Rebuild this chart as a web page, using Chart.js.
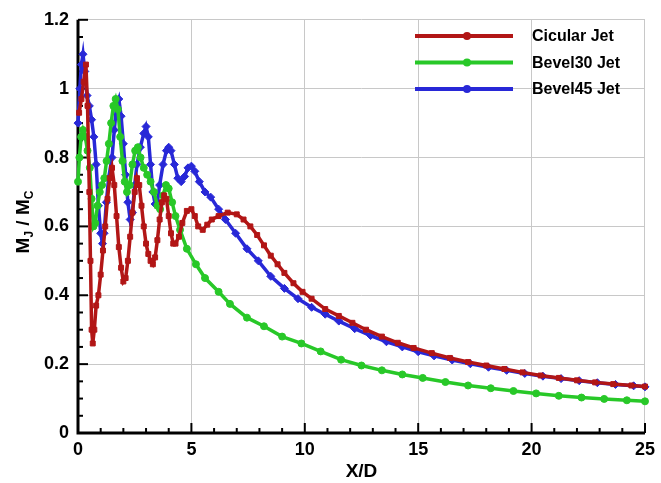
<!DOCTYPE html>
<html lang="en">
<head>
    <meta charset="UTF-8">
    <title>Mach number decay</title>
    <script src="https://cdn.jsdelivr.net/npm/chart.js"></script>
    <style>
        body { margin: 0; background: #ffffff; }
        .chart-box { position: relative; width: 661px; height: 483px; }
    </style>
</head>
<body>
    <div class="chart-box">
        <canvas id="jetChart"></canvas>
    </div>

    <script>
        // Series
        const seriesNames = ["Cicular Jet", "Bevel30 Jet", "Bevel45 Jet"];

        const xCircular = [0.05,0.15,0.25,0.35,0.42,0.5,0.55,0.6,0.65,0.72,0.8,0.9,1.0,1.1,1.2,1.3,1.4,1.5,1.6,1.7,1.8,1.9,2.0,2.1,2.2,2.3,2.4,2.5,2.6,2.7,2.8,2.9,3.0,3.1,3.2,3.3,3.4,3.5,3.6,3.7,3.8,3.9,4.0,4.1,4.2,4.3,4.45,4.6,4.8,5.0,5.15,5.3,5.5,5.7,5.9,6.2,6.6,7.0,7.3,7.6,7.9,8.2,8.5,8.8,9.1,9.5,9.9,10.3,10.9,11.5,12.1,12.7,13.4,14.1,14.8,15.6,16.4,17.2,18.0,18.8,19.6,20.4,21.2,22.0,22.8,23.6,24.4,25];
        const yCircular = [0.93,0.97,1.02,1.07,0.95,0.7,0.5,0.3,0.26,0.3,0.37,0.4,0.46,0.53,0.6,0.68,0.74,0.77,0.72,0.63,0.54,0.48,0.44,0.45,0.5,0.57,0.64,0.7,0.74,0.72,0.66,0.6,0.55,0.52,0.5,0.49,0.51,0.56,0.62,0.67,0.69,0.68,0.63,0.58,0.55,0.55,0.57,0.61,0.645,0.65,0.63,0.6,0.59,0.605,0.62,0.63,0.64,0.635,0.62,0.6,0.575,0.545,0.515,0.49,0.465,0.435,0.41,0.39,0.36,0.34,0.32,0.3,0.28,0.262,0.247,0.232,0.218,0.206,0.196,0.186,0.176,0.167,0.16,0.153,0.147,0.142,0.138,0.135];

        const xBevel30 = [0.0,0.06,0.14,0.22,0.32,0.42,0.52,0.6,0.68,0.76,0.86,0.96,1.06,1.16,1.26,1.36,1.46,1.56,1.66,1.76,1.86,1.96,2.06,2.16,2.28,2.4,2.52,2.64,2.76,2.9,3.05,3.2,3.35,3.5,3.62,3.75,3.88,4.0,4.15,4.3,4.5,4.8,5.2,5.6,6.2,6.7,7.45,8.2,9.0,9.85,10.7,11.6,12.5,13.4,14.3,15.2,16.2,17.2,18.2,19.2,20.2,21.2,22.2,23.2,24.2,25];
        const yBevel30 = [0.73,0.8,0.86,0.88,0.86,0.82,0.77,0.68,0.6,0.61,0.66,0.7,0.72,0.74,0.79,0.84,0.9,0.95,0.97,0.94,0.86,0.79,0.73,0.7,0.72,0.78,0.82,0.83,0.8,0.77,0.75,0.73,0.7,0.66,0.65,0.69,0.72,0.71,0.67,0.63,0.59,0.535,0.49,0.45,0.41,0.375,0.335,0.31,0.28,0.26,0.237,0.213,0.196,0.182,0.17,0.16,0.148,0.138,0.13,0.122,0.115,0.108,0.103,0.099,0.095,0.092];

        const xBevel45 = [0.0,0.08,0.15,0.22,0.3,0.4,0.5,0.6,0.7,0.8,0.9,1.0,1.08,1.15,1.25,1.35,1.5,1.6,1.7,1.8,1.9,2.0,2.1,2.2,2.3,2.4,2.5,2.6,2.75,2.9,3.0,3.1,3.2,3.3,3.4,3.5,3.6,3.75,3.9,4.0,4.1,4.25,4.4,4.55,4.7,4.85,5.0,5.15,5.35,5.6,5.85,6.2,6.5,6.95,7.45,7.95,8.5,9.1,9.7,10.3,10.9,11.5,12.2,12.9,13.6,14.3,15.0,15.7,16.5,17.3,18.1,18.9,19.7,20.5,21.3,22.1,22.9,23.7,24.5,25];
        const yBevel45 = [0.9,1.0,1.07,1.1,1.05,0.98,0.95,0.91,0.86,0.78,0.66,0.58,0.55,0.58,0.67,0.74,0.8,0.88,0.95,0.97,0.92,0.84,0.75,0.67,0.62,0.64,0.72,0.78,0.83,0.87,0.89,0.86,0.78,0.7,0.665,0.67,0.72,0.78,0.82,0.83,0.82,0.78,0.74,0.73,0.745,0.77,0.775,0.76,0.73,0.7,0.685,0.65,0.62,0.58,0.535,0.5,0.455,0.42,0.39,0.365,0.345,0.325,0.303,0.283,0.265,0.25,0.236,0.224,0.212,0.201,0.191,0.182,0.173,0.165,0.158,0.152,0.146,0.141,0.137,0.134];

        const xTicks = [0, 5, 10, 15, 20, 25];
        const yTicks = [0, 0.2, 0.4, 0.6, 0.8, 1, 1.2];

        const toPoints = (xs, ys) => xs.map((x, i) => ({ x: x, y: ys[i] }));

        const FONT = '"Liberation Sans", Arial, sans-serif';
        const colors = ['rgb(178, 22, 22)', 'rgb(40, 200, 40)', 'rgb(40, 40, 215)'];
        const markers = ['rect', 'circle', 'rectRot'];

        // axis lines with inward major/minor ticks
        const axisPlugin = {
            id: 'axisTicks',
            beforeDatasetsDraw(chart) {
                const { ctx, chartArea: a, scales: { x, y } } = chart;
                ctx.save();
                ctx.strokeStyle = '#000';
                ctx.lineWidth = 2;
                for (let v = 0; v <= 25; v++) {
                    const px = x.getPixelForValue(v);
                    const len = v % 5 === 0 ? 10 : 5;
                    ctx.beginPath(); ctx.moveTo(px, a.bottom); ctx.lineTo(px, a.bottom - len); ctx.stroke();
                }
                for (let i = 0; i <= 24; i++) {
                    const py = y.getPixelForValue(i * 0.05);
                    const len = i % 4 === 0 ? 10 : 5;
                    ctx.beginPath(); ctx.moveTo(a.left, py); ctx.lineTo(a.left + len, py); ctx.stroke();
                }
                ctx.lineWidth = 3;
                ctx.beginPath();
                ctx.moveTo(a.left, a.top);
                ctx.lineTo(a.left, a.bottom);
                ctx.lineTo(a.right, a.bottom);
                ctx.stroke();
                ctx.restore();
            }
        };

        // y title with subscripts
        const yTitlePlugin = {
            id: 'yTitle',
            afterDraw(chart) {
                const ctx = chart.ctx;
                const parts = [
                    { t: 'M', sub: false }, { t: 'J', sub: true },
                    { t: ' / M', sub: false }, { t: 'C', sub: true }
                ];
                const big = 'bold 19px ' + FONT, small = 'bold 12px ' + FONT;
                ctx.save();
                let w = 0;
                parts.forEach(p => { ctx.font = p.sub ? small : big; w += ctx.measureText(p.t).width; });
                ctx.translate(22, 222);
                ctx.rotate(-Math.PI / 2);
                ctx.fillStyle = '#000';
                ctx.textBaseline = 'alphabetic';
                let cx = -w / 2;
                parts.forEach(p => {
                    ctx.font = p.sub ? small : big;
                    ctx.fillText(p.t, cx, p.sub ? 11 : 7);
                    cx += ctx.measureText(p.t).width;
                });
                ctx.restore();
            }
        };

        // legend inside the plot, line with marker in the middle
        const legendPlugin = {
            id: 'inlineLegend',
            afterDatasetsDraw(chart) {
                const ctx = chart.ctx;
                ctx.save();
                chart.data.datasets.forEach((ds, i) => {
                    const ly = 36 + i * 26.5;
                    ctx.strokeStyle = ds.borderColor;
                    ctx.lineWidth = 4;
                    ctx.beginPath(); ctx.moveTo(415, ly); ctx.lineTo(513, ly); ctx.stroke();
                    ctx.fillStyle = ds.borderColor;
                    ctx.beginPath(); ctx.arc(467, ly, 4, 0, Math.PI * 2); ctx.fill();
                    ctx.fillStyle = '#000';
                    ctx.font = 'bold 16px ' + FONT;
                    ctx.textBaseline = 'middle';
                    ctx.fillText(ds.label, 532, ly + 1);
                });
                ctx.restore();
            }
        };

        const datasets = [
            toPoints(xCircular, yCircular),
            toPoints(xBevel30, yBevel30),
            toPoints(xBevel45, yBevel45)
        ].map((pts, i) => ({
            label: seriesNames[i],
            data: pts,
            borderColor: colors[i],
            backgroundColor: colors[i],
            borderWidth: 3.5,
            pointStyle: markers[i],
            pointRadius: i === 2 ? 4 : 3.5,
            pointBorderWidth: 1,
            tension: 0,
            clip: false
        }));

        new Chart(document.getElementById('jetChart'), {
            type: 'line',
            data: { datasets: datasets },
            plugins: [axisPlugin, yTitlePlugin, legendPlugin],
            options: {
                responsive: true,
                maintainAspectRatio: false,
                animation: false,
                layout: { padding: { top: 16, right: 11, left: 0, bottom: 0 } },
                scales: {
                    x: {
                        type: 'linear',
                        min: 0, max: 25,
                        afterFit: s => { s.height = 50; },
                        afterBuildTicks: s => { s.ticks = xTicks.map(v => ({ value: v })); },
                        grid: { color: '#c8c8c8', drawTicks: false },
                        border: { display: false },
                        ticks: { color: '#000', padding: 6, font: { family: FONT, size: 18, weight: 'bold' } },
                        title: { display: true, text: 'X/D', color: '#000', padding: 0, font: { family: FONT, size: 19, weight: 'bold' } }
                    },
                    y: {
                        min: 0, max: 1.2,
                        afterFit: s => { s.width = 78; },
                        afterBuildTicks: s => { s.ticks = yTicks.map(v => ({ value: v })); },
                        grid: { color: '#c8c8c8', drawTicks: false },
                        border: { display: false },
                        ticks: {
                            color: '#000', padding: 9,
                            font: { family: FONT, size: 18, weight: 'bold' },
                            callback: v => String(Math.round(v * 10) / 10)
                        }
                    }
                },
                plugins: {
                    legend: { display: false },
                    tooltip: { enabled: false }
                }
            }
        });
    </script>
</body>
</html>
